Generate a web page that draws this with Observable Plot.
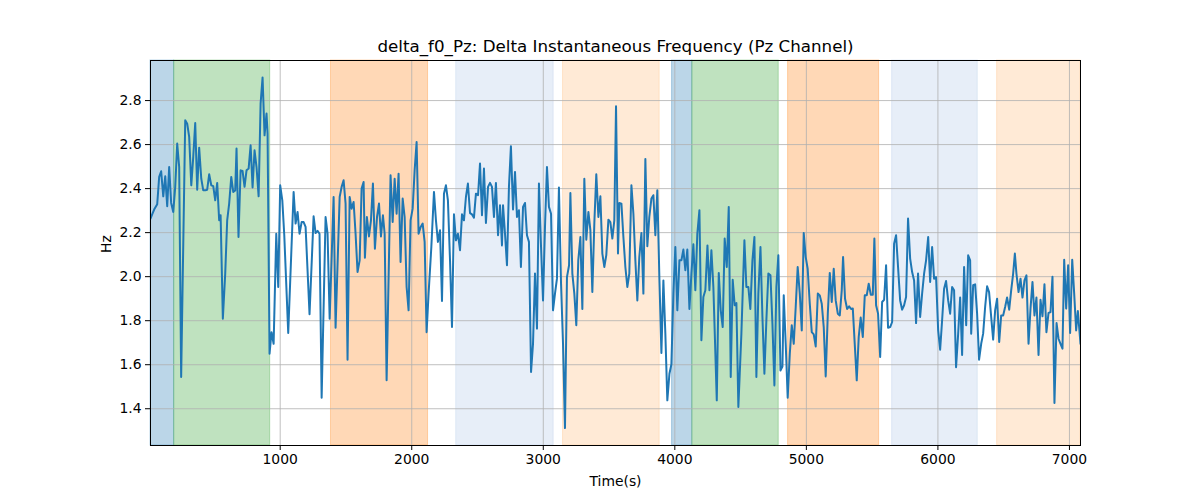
<!DOCTYPE html>
<html><head><meta charset="utf-8">
<script src="https://cdn.jsdelivr.net/npm/d3@7"></script>
<script src="https://cdn.jsdelivr.net/npm/@observablehq/plot@0.6"></script>
<style>body{margin:0;background:#fff;font-family:"DejaVu Sans",sans-serif}</style>
</head><body><div id="chart"></div>
<script>
const times = [14,29,45,65,80,95,111,126,141,156,171,187,202,217,232,247,278,293,308,324,339,354,369,384,400,415,430,445,460,476,491,506,521,536,547,564,582,597,612,628,643,658,668,683,699,714,729,744,760,775,790,805,820,836,851,866,881,896,
904,919,934,950,970,985,1000,1016,1031,1061,1102,1117,1132,1147,1163,1178,1193,1223,1254,1269,1284,1299,1315,1345,1360,1376,1406,1421,1452,1467,1482,1497,1512,1528,1543,1558,1573,1588,1604,1619,1634,1644,1659,1675,1690,1705,1720,1736,1751,1766,1781,
1794,1809,1839,1855,1870,1885,1900,1915,1931,1946,1961,1976,1991,2007,2022,2037,2052,2068,2083,2098,2113,2128,2149,2169,2184,2199,2215,2230,2245,2260,2275,2291,2306,2321,2336,2351,2367,2382,2397,2412,2427,2443,2458,2473,2488,2504,2519,2534,2549,2564,2580,2595,2610,2625,2640,2656,2671,2686,
2694,2709,2724,2739,2754,2770,2785,2800,2815,2830,2846,2861,2876,2891,2907,2922,2937,2952,2967,2983,2998,3013,3028,3043,3059,3074,3089,3104,3119,3135,3150,3165,3180,3196,3206,3221,3236,3251,3266,3282,3297,3312,3327,3343,3358,3373,3388,3403,3419,3434,3449,3464,3479,3495,3510,3525,3540,3553,3568,
3578,3594,3609,3624,3639,3654,3670,3685,3700,3715,3730,3746,3761,3776,3791,3806,3822,3837,3852,3867,3883,3898,3913,3928,3943,3959,3974,3989,4004,4019,4035,4050,4065,4080,4095,4111,4126,4141,4156,4171,4187,4202,4217,4232,4248,4263,4278,4293,4319,4334,4349,4364,4379,4395,4410,4425,4440,4455,
4468,4483,4506,4529,4544,4559,4574,4590,4605,4620,4635,4651,4666,4681,4696,4711,4727,4742,4757,4772,4787,4803,4818,4828,4843,4858,4874,4889,4904,4919,4934,4950,4965,4980,4995,5010,5026,5041,5056,5071,5087,5102,5117,5132,5147,5163,5178,5193,5208,5223,5239,5254,5269,5279,5294,5310,5325,5340,
5353,5383,5398,5413,5429,5444,5459,5474,5490,5505,5517,5530,5545,5561,5576,5591,5606,5621,5637,5652,5667,5682,5697,5713,5728,5743,5758,5773,5789,5804,5819,5834,5849,5865,5880,5895,5910,5926,5941,5956,5971,5986,6002,6017,6032,6047,6062,6078,6093,6108,6123,6138,6154,6169,6184,6199,6215,6230,6245,
6253,6268,6283,6298,6313,6329,6344,6359,6374,6389,6405,6420,6435,6450,6466,6481,6496,6511,6526,6542,6557,6572,6585,6597,6613,6628,6643,6658,6673,6689,6704,6719,6734,6749,6765,6780,6795,6810,6825,6841,6856,6871,6886,6902,6917,6932,6947,6960,6975,6990,7005,7021,7036,7051,7064,7084];
const hz = [2.264,2.286,2.309,2.329,2.453,2.479,2.365,2.456,2.320,2.498,2.335,2.294,2.408,2.605,2.498,1.544,2.711,2.695,2.635,2.415,2.544,2.698,2.395,2.586,2.445,2.392,2.392,2.395,2.465,2.415,2.411,2.347,2.426,2.256,2.279,1.809,2.014,2.256,2.332,2.453,2.385,2.392,2.582,2.180,2.483,2.480,2.408,2.483,2.491,2.597,2.405,2.574,2.498,2.365,2.786,2.905,2.642,2.741,
2.650,1.650,1.748,1.695,2.195,1.953,2.415,2.347,2.188,1.744,2.385,2.241,2.294,2.195,2.248,2.248,2.226,1.829,2.274,2.198,2.208,2.195,1.450,2.271,2.195,1.809,2.362,1.768,2.362,2.408,2.438,2.332,1.623,2.362,2.309,2.339,2.195,2.021,2.074,2.400,2.430,2.086,2.271,2.183,2.256,2.423,2.127,2.271,2.332,2.183,2.279,
2.195,1.529,2.461,2.248,2.445,2.286,2.468,2.067,2.355,2.271,1.953,1.847,2.256,2.309,2.483,2.612,2.195,2.226,2.241,2.158,1.748,1.923,2.135,2.385,2.256,2.158,2.211,1.889,2.377,2.415,2.347,2.074,1.771,2.283,2.165,2.195,2.120,2.283,2.256,2.362,2.423,2.289,2.283,2.268,2.377,2.370,2.514,2.279,2.491,2.244,2.408,2.426,2.408,2.271,2.426,2.188,2.324,2.142,
2.324,2.195,2.052,2.408,2.592,2.305,2.476,2.271,2.302,2.044,2.317,2.335,2.188,2.158,1.567,1.695,2.014,1.764,2.423,2.135,1.892,2.226,2.498,2.317,2.286,1.847,1.923,1.991,2.405,1.968,1.695,1.312,1.998,2.052,2.380,2.014,1.923,1.779,2.074,2.180,1.853,2.445,2.168,2.294,2.211,1.930,2.241,2.465,2.271,2.365,2.105,2.044,2.098,2.259,2.248,2.173,2.256,2.774,2.105,
2.335,2.332,2.180,2.044,1.953,2.014,2.415,2.286,2.074,1.892,2.089,2.198,1.923,2.535,2.138,2.271,2.355,2.370,2.188,2.392,1.983,1.653,1.983,1.741,1.438,1.559,1.602,1.923,2.135,1.847,2.074,2.074,2.123,2.029,2.123,1.853,2.014,2.147,1.938,2.195,2.302,1.711,1.908,1.938,2.142,1.938,2.120,1.953,1.438,2.017,1.847,1.771,2.173,2.044,2.317,1.544,1.986,1.870,
1.880,1.408,1.741,2.165,1.953,1.953,1.853,2.074,2.180,1.544,1.923,2.135,1.817,1.559,1.802,2.014,2.006,1.786,1.506,1.953,2.097,1.574,1.592,1.915,1.695,1.450,1.650,1.779,1.695,1.862,2.044,1.923,1.756,2.198,2.089,2.036,1.877,1.748,1.738,1.683,1.923,1.915,1.877,1.771,1.547,1.832,2.017,1.885,2.036,1.892,1.832,1.824,1.938,2.089,1.900,1.853,1.865,1.853,
1.855,1.529,1.726,1.814,1.726,1.915,1.915,1.968,1.918,1.918,2.173,1.870,1.832,1.635,1.885,1.895,2.052,1.768,1.771,1.794,2.150,2.188,2.044,1.892,1.850,1.870,1.908,2.264,2.082,2.021,1.983,1.789,2.014,1.817,1.923,2.014,2.074,2.180,1.976,2.135,1.991,1.998,1.756,1.668,1.802,1.945,1.980,1.892,1.832,1.953,1.938,1.589,1.741,1.905,1.644,2.044,1.779,2.097,2.074,
1.741,1.961,1.965,1.832,1.623,1.695,1.741,1.862,1.956,1.930,1.817,1.714,1.847,1.900,1.703,1.824,1.824,1.862,1.905,1.850,1.938,2.014,2.105,2.014,1.930,1.991,1.905,1.983,2.006,1.695,1.855,1.976,1.824,1.905,1.644,1.895,1.820,1.965,1.748,1.835,1.839,2.000,1.426,1.789,1.718,1.695,1.673,2.077,1.855,2.052,1.744,2.077,1.923,1.756,1.844,1.695];

const spanStarts = [14,194,1386,2338,3150,3979,4133,4861,5652,6450];
const spanEnds   = [194,924,2124,3079,3885,4133,4790,5553,6303,7084];
const spanColors = ["#1f77b4","#2ca02c","#ff7f0e","#aec7e8","#ffbb78","#1f77b4","#2ca02c","#ff7f0e","#aec7e8","#ffbb78"];
const xTicks = [1000,2000,3000,4000,5000,6000,7000];
const yTicks = [1.4,1.6,1.8,2.0,2.2,2.4,2.6,2.8];
const titleText = "delta_f0_Pz: Delta Instantaneous Frequency (Pz Channel)";
const xLabel = "Time(s)";
const yLabel = "Hz";

const data = times.map((t, i) => ({t, v: hz[i]}));
const spans = spanStarts.map((s, i) => ({x1: s, x2: spanEnds[i], c: spanColors[i]}));

const chart = Plot.plot({
  width: 1200, height: 500,
  marginLeft: 150, marginRight: 120, marginTop: 60, marginBottom: 55,
  style: {fontFamily: "DejaVu Sans", fontSize: "13.9px", color: "black", background: "white", overflow: "visible"},
  x: {domain: [14, 7084]},
  y: {domain: [1.233, 2.982]},
  color: {type: "identity"},
  marks: [
    Plot.rect(spans, {x1: "x1", x2: "x2", fill: "c", fillOpacity: 0.3, stroke: "c", strokeOpacity: 0.3, strokeWidth: 1}),
    Plot.gridX(xTicks, {stroke: "#b0b0b0", strokeOpacity: 1, strokeWidth: 0.8}),
    Plot.gridY(yTicks, {stroke: "#b0b0b0", strokeOpacity: 1, strokeWidth: 0.8}),
    Plot.line(data, {x: "t", y: "v", stroke: "#1f77b4", strokeWidth: 2, clip: true}),
    Plot.frame({stroke: "black", strokeWidth: 1}),
    Plot.axisX(xTicks, {tickSize: 5, tickPadding: 4, tickFormat: "d", label: null, fontSize: 13.9}),
    Plot.axisY(yTicks, {tickSize: 5, tickPadding: 4, tickFormat: ".1f", label: null, fontSize: 13.9}),
    Plot.text([titleText], {frameAnchor: "top", dy: -14, lineAnchor: "middle", fontSize: 16.7, fill: "black"}),
    Plot.text([xLabel], {frameAnchor: "bottom", dy: 36, lineAnchor: "middle", fontSize: 13.9, fill: "black"}),
    Plot.text([yLabel], {frameAnchor: "left", dx: -44, rotate: -90, lineAnchor: "middle", fontSize: 13.9, fill: "black"})
  ]
});
document.getElementById("chart").appendChild(chart);
</script></body></html>
